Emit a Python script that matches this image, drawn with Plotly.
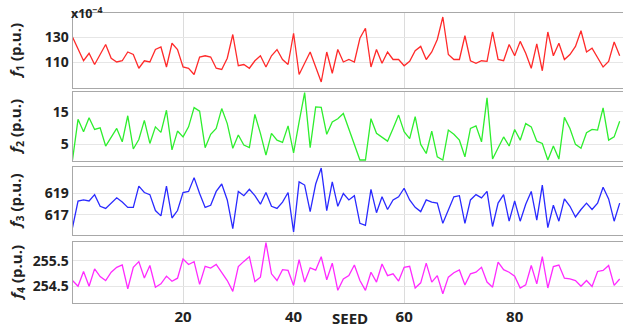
import plotly.graph_objects as go

seed = list(range(0, 100))

f1 = [130, 120, 111, 117, 108, 116, 124, 113, 110, 111, 118, 116, 105, 111, 110, 120, 122, 106, 125, 120,
      106, 105, 100, 114, 115, 114, 105, 104, 113, 132, 107, 108, 105, 111, 115, 106, 115, 120, 112, 108,
      133, 100, 109, 118, 106, 94, 118, 101, 120, 110, 112, 110, 129, 137, 106, 120, 109, 118, 112, 112,
      107, 110.5, 119, 122.5, 112, 118, 128, 146, 116, 112, 112, 131, 111, 109, 111, 110.5, 134, 112, 111, 124,
      115, 126.5, 117, 105, 124.5, 103, 134, 115, 125, 112, 116, 122.5, 135, 118, 121, 113, 106, 110.5, 126, 115]

f2 = [0.2, 12.7, 8.9, 13.2, 9.6, 10.1, 4.5, 7.3, 9.9, 5.8, 13.8, 3.6, 6.5, 12.4, 5.3, 10.4, 8.7, 15.5, 3.3, 9.1,
      7.3, 10.4, 16.3, 15.2, 4.0, 8.1, 9.9, 16.0, 11.4, 3.8, 7.9, 4.8, 4.0, 14.2, 8.4, 1.7, 8.4, 6.3, 5.6, 10.7,
      2.4, 11.9, 20.9, 4.0, 16.5, 16.4, 8.1, 11.9, 12.9, 14.5, 9.9, 5.0, 0.2, 0.2, 12.9, 8.4, 7.3, 6.0, 9.9, 14.0,
      8.9, 6.8, 13.5, 5.0, 2.2, 9.1, 1.2, 0.2, 9.4, 8.1, 6.3, 1.2, 9.9, 10.7, 5.8, 19.3, 0.5, 3.8, 7.3, 4.5,
      9.6, 6.3, 11.4, 10.4, 6.0, 5.3, 0.2, 4.5, 0.5, 13.3, 9.9, 5.0, 3.8, 8.6, 9.6, 9.4, 16.2, 6.3, 7.3, 12.1]

f3 = [615.8, 618.3, 618.4, 618.3, 618.9, 617.8, 617.6, 618.1, 618.6, 618.2, 617.7, 617.7, 619.7, 619.1, 618.9, 617.4, 616.9, 619.7, 616.7, 617.4,
      619.1, 619.2, 620.5, 619.0, 617.7, 617.9, 619.2, 619.9, 618.4, 615.7, 619.2, 618.8, 619.4, 618.8, 618.0, 619.1, 617.8, 617.6, 618.2, 619.1,
      615.4, 620.1, 619.8, 617.3, 619.9, 621.4, 617.4, 620.1, 617.8, 619.0, 618.4, 618.8, 616.2, 616.0, 619.4, 617.2, 618.7, 617.5, 618.4, 618.7,
      619.5, 618.4, 617.7, 617.3, 618.4, 618.2, 618.1, 616.2, 617.5, 618.7, 618.8, 616.2, 618.4, 618.9, 618.6, 619.2, 615.9, 618.1, 618.9, 616.4,
      618.3, 616.4, 618.0, 619.2, 616.5, 619.8, 615.8, 617.9, 616.4, 618.5, 617.8, 616.8, 617.5, 618.1, 617.5, 618.1, 619.6, 618.5, 616.4, 618.1]

f4 = [254.73, 254.51, 255.08, 254.51, 255.18, 254.88, 254.73, 255.05, 255.24, 255.33, 254.41, 255.24, 255.46, 254.83, 255.31, 254.47, 254.60, 254.90, 254.70, 254.82,
      255.56, 255.35, 255.46, 254.58, 255.28, 255.21, 255.35, 255.03, 254.73, 254.31, 255.27, 255.47, 255.65, 254.69, 254.86, 256.2, 254.99, 254.73, 255.15, 255.12,
      254.54, 255.54, 254.67, 255.22, 255.13, 255.65, 254.76, 255.40, 254.35, 254.79, 254.92, 255.33, 254.73, 254.35, 255.05, 254.67, 255.37, 254.92, 254.99, 254.71,
      255.24, 255.28, 254.44, 254.64, 255.40, 254.67, 254.92, 254.22, 254.86, 255.03, 255.14, 254.56, 254.99, 255.05, 255.24, 254.67, 254.47, 255.44, 255.15, 255.05,
      254.90, 254.44, 254.56, 255.31, 254.60, 255.65, 254.44, 255.27, 255.33, 254.82, 254.79, 254.73, 254.51, 254.73, 254.50, 255.08, 255.12, 255.31, 254.54, 254.79]

x_ticks = [20, 40, 60, 80]
series = [f1, f2, f3, f4]
colors = ["#ff2a2a", "#2eee2e", "#2a2aff", "#ff2aff"]
y_ticks = [[110, 130], [5, 15], [617, 619], [254.5, 255.5]]
y_ticktext = [["110", "130"], ["5", "15"], ["617", "619"], ["254.5", "255.5"]]
y_ranges = [[89.2, 149.2], [-0.1, 21.1], [615.1, 621.5], [253.86, 256.22]]
y_titles = ["<i>f</i><sub>1</sub> (p.u.)", "<i>f</i><sub>2</sub> (p.u.)",
            "<i>f</i><sub>3</sub> (p.u.)", "<i>f</i><sub>4</sub> (p.u.)"]

W, H = 623, 328
panels_px = [(13, 88), (92, 161), (167, 235), (242, 303)]
x_dom = [72.5 / W, 1.0]
x_range = [0, 99.6]
FONT = "Open Sans"

fig = go.Figure()
layout = dict(width=W, height=H, margin=dict(l=0, r=0, t=0, b=0),
              paper_bgcolor="white", plot_bgcolor="white", showlegend=False,
              font=dict(family=FONT, color="#222222"))
annotations = []
for k in range(4):
    idx = "" if k == 0 else str(k + 1)
    fig.add_trace(go.Scatter(x=seed, y=series[k], mode="lines",
                             line=dict(color=colors[k], width=1.3),
                             xaxis="x" + idx, yaxis="y" + idx, hoverinfo="skip"))
    top, bot = panels_px[k]
    layout["xaxis" + idx] = dict(domain=x_dom, range=x_range, anchor="y" + idx,
                                 tickvals=x_ticks, showticklabels=(k == 3),
                                 showgrid=True, gridcolor="#dcdcdc", gridwidth=1,
                                 showline=True, linecolor="#a8a8a8", linewidth=1, mirror=True,
                                 ticks="", zeroline=False,
                                 tickfont=dict(size=15, family=FONT, color="#222222", weight="bold"))
    layout["yaxis" + idx] = dict(domain=[(H - bot) / H, (H - top) / H], range=y_ranges[k],
                                 anchor="x" + idx, tickvals=y_ticks[k], ticktext=y_ticktext[k],
                                 showgrid=True, gridcolor="#e6e6e6", gridwidth=1,
                                 showline=True, linecolor="#a8a8a8", linewidth=1, mirror=True,
                                 ticks="", zeroline=False,
                                 tickfont=dict(size=14, family=FONT, color="#222222", weight="bold"))
    annotations.append(dict(text=y_titles[k], x=16 / W, y=(H - (top + bot) / 2) / H,
                            xref="paper", yref="paper", textangle=-90, showarrow=False,
                            xanchor="center", yanchor="middle",
                            font=dict(size=15, family=FONT, color="#222222", weight="bold")))

annotations.append(dict(text="x10<sup>\u22124</sup>", x=69 / W, y=(H - 13) / H,
                        xref="paper", yref="paper", showarrow=False, xanchor="left", yanchor="middle",
                        font=dict(size=12.5, family=FONT, color="#222222", weight="bold")))
annotations.append(dict(text="SEED", x=350 / W, y=(H - 318) / H, xref="paper", yref="paper",
                        showarrow=False, xanchor="center", yanchor="middle", borderpad=0,
                        font=dict(size=15, family=FONT, color="#222222", weight="bold")))
layout["annotations"] = annotations
fig.update_layout(**layout)
fig.write_html("out.html", config={"displayModeBar": False},
               post_script="document.body.style.margin='0';")
